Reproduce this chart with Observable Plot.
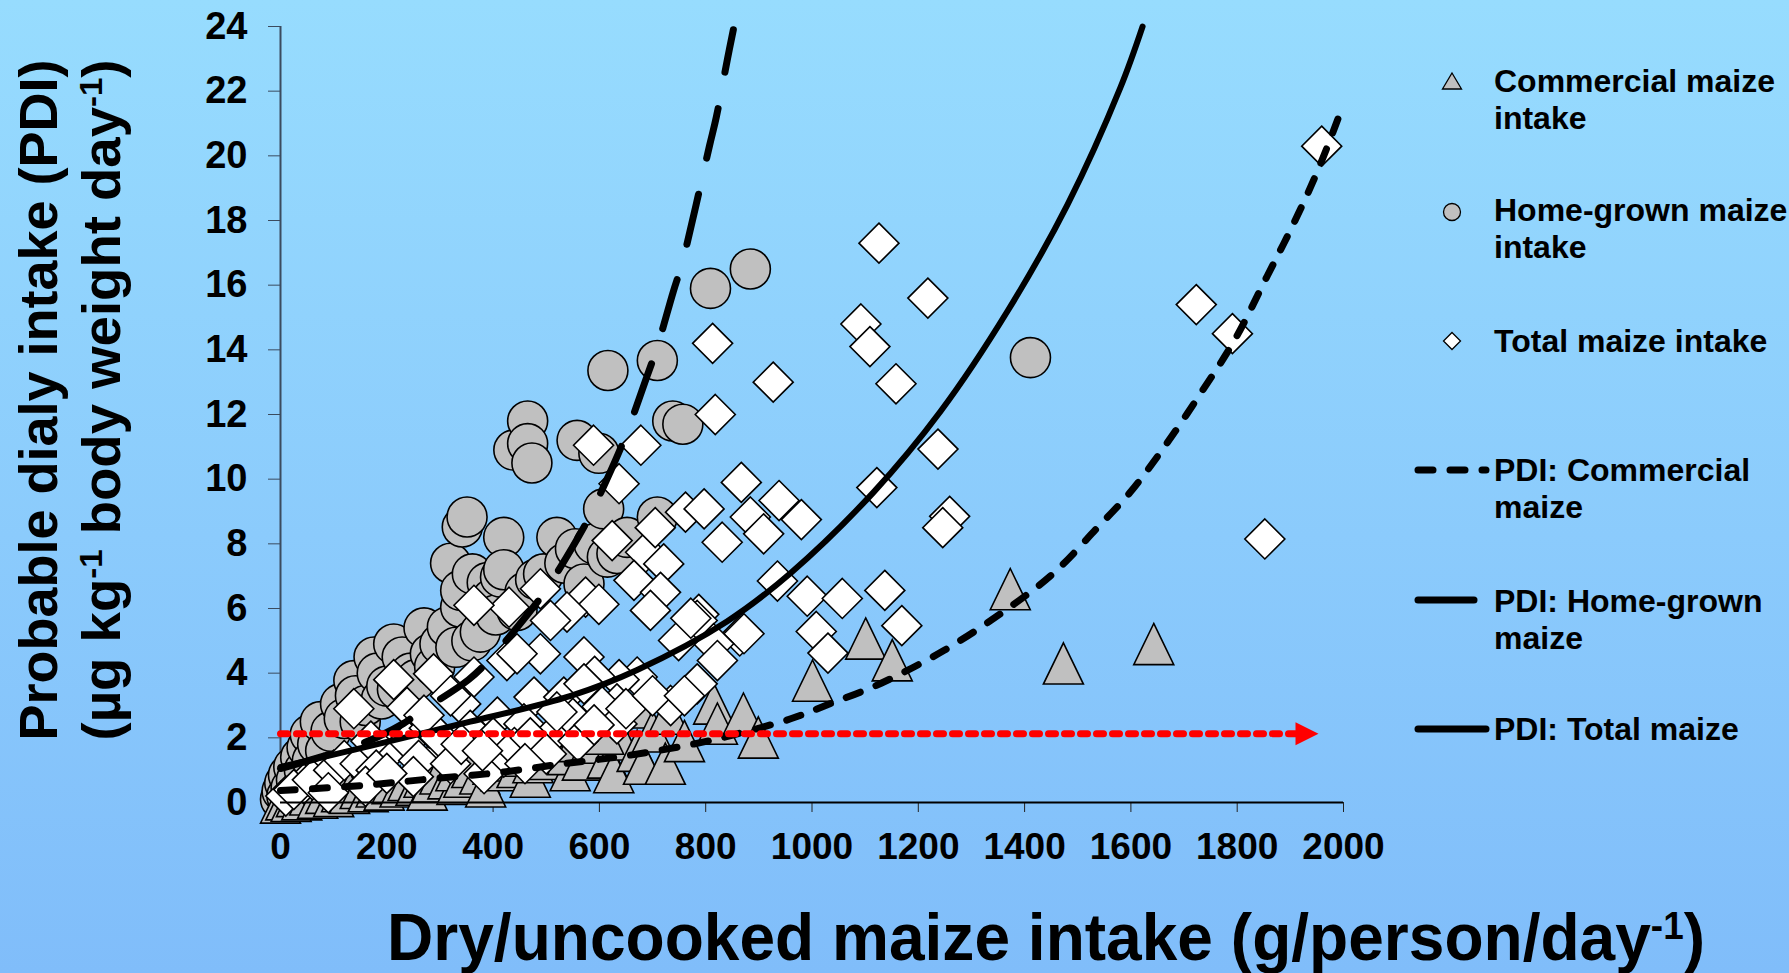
<!DOCTYPE html>
<html><head><meta charset="utf-8">
<script src="https://cdn.jsdelivr.net/npm/d3@7"></script>
<script src="https://cdn.jsdelivr.net/npm/@observablehq/plot@0.6"></script>
<style>
html,body{margin:0;padding:0;}
body{width:1789px;height:973px;overflow:hidden;background:linear-gradient(to bottom,#97DCFE 0%,#8BCBFC 55%,#80BDFA 100%);font-family:"Liberation Sans",Arial,sans-serif;}
#wrap{position:relative;width:1789px;height:973px;}
#wrap svg.overlay{position:absolute;left:0;top:0;pointer-events:none;}
</style></head><body><div id="wrap"></div>
<script>
// ---------------- DATA ----------------
const xTicks = [0,200,400,600,800,1000,1200,1400,1600,1800,2000];
const yTicks = [0,2,4,6,8,10,12,14,16,18,20,22,24];

// Commercial maize intake (triangles)
const commercialIntake = [
 [0,0.0],[10,0.1],[20,0.05],[30,0.2],[40,0.1],[55,0.25],[70,0.15],[85,0.3],[100,0.2],[115,0.35],
 [130,0.3],[150,0.45],[165,0.35],[180,0.5],[195,0.4],[210,0.6],[225,0.5],[240,0.7],[255,0.55],[276,0.4],
 [270,0.8],[285,0.65],[300,0.9],[315,0.75],[332,0.58],[330,1.0],[345,0.8],[360,1.1],[375,0.9],[386,0.5],
 [400,1.2],[415,1.0],[430,1.3],[445,1.1],[470,0.8],[460,1.45],[475,1.25],[490,1.6],[505,1.35],[520,1.7],
 [545,1.0],[540,1.5],[555,1.9],[568,1.33],[589,1.85],[615,1.39],[627,0.94],[632,2.2],[640,1.95],[671,1.6],
 [683,1.2],[608,2.13],[671,2.94],[700,2.2],[724,1.2],[730,2.75],[760,1.9],[815,3.06],[822,2.44],[871,2.75],
 [899,2.01],[1001,3.77],[1101,5.07],[1151,4.4],[1373,6.6],[1473,4.3],[1643,4.9]
];

// Home-grown maize intake (circles)
const homeGrownIntake = [
 [0,0.1],[3,0.35],[8,0.6],[12,0.2],[15,0.85],[20,0.45],[25,1.1],[30,0.7],[38,1.4],[45,1.0],
 [50,1.7],[56,2.1],[60,1.3],[70,1.8],[75,2.5],[85,1.6],[95,2.2],[113,3.05],[120,2.6],[138,3.77],
 [141,3.3],[150,2.5],[160,3.0],[176,4.5],[182,4.0],[190,3.2],[200,3.6],[213,4.9],[220,3.5],[229,4.5],
 [245,4.0],[255,3.8],[270,5.4],[282,4.6],[290,4.2],[300,4.9],[314,5.43],[320,7.4],[330,4.8],[339,6.04],
 [339,6.56],[342,8.52],[351,8.83],[360,5.0],[361,7.07],[376,5.27],[389,6.8],[398,6.3],[405,5.8],[414,6.97],
 [420,8.2],[420,7.2],[439,10.9],[445,5.94],[460,6.5],[465,11.8],[465,11.1],[473,10.5],[480,6.9],[495,7.07],
 [520,8.2],[535,7.4],[555,7.85],[558,11.2],[571,6.76],[590,8.0],[599,10.8],[608,9.08],[615,7.59],[616,13.36],
 [633,7.7],[652,8.2],[709,13.67],[709,8.83],[738,11.8],[757,11.7],[809,15.9],[884,16.5],[1411,13.76]
];

// Total maize intake (diamonds)
const totalIntake = [
 [1959,20.3],[1126,17.3],[1218,15.6],[1723,15.4],[1791,14.5],[813,14.2],[1092,14.8],[1109,14.1],[927,13.0],[1158,12.95],
 [818,12.0],[589,11.05],[678,11.05],[1237,10.93],[637,9.86],[867,9.9],[1122,9.74],[938,9.34],[762,8.98],[797,9.08],
 [884,8.83],[980,8.75],[1259,8.85],[1246,8.5],[909,8.31],[831,8.05],[624,8.1],[687,7.74],[705,8.5],[721,7.38],
 [1852,8.15],[665,6.87],[715,6.5],[696,5.94],[935,6.85],[489,6.61],[430,6.04],[364,6.1],[574,6.35],[599,6.13],
 [539,5.89],[508,5.63],[991,6.38],[1057,6.31],[1137,6.56],[787,5.82],[1008,5.29],[1169,5.47],[864,5.15],[784,5.63],
 [872,5.22],[815,4.91],[822,4.39],[749,5.01],[772,5.7],[1030,4.62],[489,4.6],[426,4.39],[571,4.5],[445,4.6],
 [671,3.88],[637,3.8],[591,3.9],[633,3.05],[605,2.96],[364,3.88],[288,3.98],[213,3.8],[138,2.9],[238,2.94],
 [339,3.05],[408,2.64],[477,3.26],[533,3.26],[571,3.67],[458,2.43],[357,2.23],[420,1.4],[307,1.61],[207,1.61],
 [81,0.89],[44,0.58],[734,3.0],[784,3.67],[633,2.43],[514,2.13],[383,0.89],[10,0.2],[25,0.4],[60,0.7],
 [100,1.0],[120,1.3],[150,1.2],[170,1.9],[180,1.0],[240,1.9],[260,1.3],[280,2.3],[300,2.0],[320,1.2],
 [340,1.8],[400,2.0],[440,1.7],[470,2.0],[500,1.5],[550,2.6],[560,1.9],[590,2.4],[650,2.9],[700,3.3],
 [760,3.3],[270,2.7],[320,3.3],[250,0.8],[160,0.5],[200,0.9],[90,0.3],[380,1.6],[460,1.2],[520,2.8]
];

// PDI curves
const pdiCommercial = [
 [0,0.37],[157,0.53],[282,0.73],[408,0.92],[533,1.2],[652,1.45],[778,1.81],[847,2.07],[960,2.59],[1035,3.06],
 [1129,3.68],[1248,4.7],[1360,5.9],[1455,7.1],[1537,8.5],[1599,9.6],[1663,11.0],[1731,12.65],[1795,14.3],[1857,16.3],
 [1906,17.9],[1953,19.6],[2000,21.6]
];
const pdiHomeGrown = [
 [0,1.05],[150,1.8],[231,2.44],[258,2.75],[354,3.8],[395,4.45],[464,5.8],[499,6.56],[577,8.7],[602,9.56],
 [646,11.2],[690,13.2],[709,14.1],[739,15.8],[756,16.7],[807,20.3],[820,21.2],[841,23.0],[852,23.9]
];
const pdiTotal = [
 [0,1.1],[169,1.75],[282,2.2],[357,2.5],[546,3.3],[671,4.1],[840,5.6],[960,7.1],[1116,9.6],[1242,12.1],
 [1368,15.2],[1481,18.5],[1580,22.1],[1622,24]
];

// red reference (dotted arrow)
const limitLevel = [2.13];
const limitSpan = [0, 1912];
const limitArrowTip = [1953];

// legend entries
const legendMarkers = [
  {label: ["Commercial maize", "intake"], kind: "triangle"},
  {label: ["Home-grown maize", "intake"], kind: "circle"},
  {label: ["Total maize intake"], kind: "diamond"}
];
const legendLines = [
  {label: ["PDI: Commercial", "maize"], dash: "15,17"},
  {label: ["PDI: Home-grown", "maize"], dash: "none", short: true},
  {label: ["PDI: Total maize"], dash: "none"}
];

// ---------------- SYMBOLS ----------------
const triSym = {draw(ctx, size){const s=Math.sqrt(size/Math.PI);ctx.moveTo(0,-s*1.03);ctx.lineTo(s,s*1.03);ctx.lineTo(-s,s*1.03);ctx.closePath();}};
const diaSym = {draw(ctx, size){const s=Math.sqrt(size/Math.PI);ctx.moveTo(0,-s);ctx.lineTo(s,0);ctx.lineTo(0,s);ctx.lineTo(-s,0);ctx.closePath();}};
const arrowSym = {draw(ctx, size){const s=Math.sqrt(size/Math.PI);ctx.moveTo(0,0);ctx.lineTo(-2*s,-s);ctx.lineTo(-2*s,s);ctx.closePath();}};

const X = d => d[0], Y = d => d[1];
const font = "Liberation Sans, Arial, sans-serif";

const limitLine = limitSpan.map(x => [x, limitLevel[0]]);
const arrowHead = limitArrowTip.map(x => [x, limitLevel[0]]);

const chart = Plot.plot({
  width: 1789, height: 973,
  marginLeft: 280, marginRight: 446, marginTop: 26, marginBottom: 171,
  x: {domain: [0, 2000]},
  y: {domain: [0, 24]},
  style: {background: "transparent", fontFamily: font, overflow: "visible"},
  marks: [
    Plot.ruleX([0], {stroke: "#3b4b5e", strokeWidth: 2}),
    Plot.axisY({ticks: yTicks, tickFormat: d => String(d), tickSize: 12, tickPadding: 21, fontSize: 38, fontWeight: "bold", fontFamily: font, label: null, stroke: "#3b4b5e", color: "black"}),
    Plot.axisX({ticks: xTicks, tickFormat: d => String(d), tickSize: 10, tickPadding: 20, fontSize: 37, fontWeight: "bold", fontFamily: font, label: null, stroke: "#222", color: "black"}),
    Plot.dot(homeGrownIntake, {x: X, y: Y, r: 20, fill: "#C0C0C0", stroke: "black", strokeWidth: 1.6}),
    Plot.dot(commercialIntake, {x: X, y: Y, r: 20, symbol: triSym, fill: "#C0C0C0", stroke: "black", strokeWidth: 1.6}),
    Plot.dot(totalIntake, {x: X, y: Y, r: 20, symbol: diaSym, fill: "white", stroke: "black", strokeWidth: 1.6}),
    Plot.ruleY([0], {stroke: "black", strokeWidth: 2}),
    Plot.line(pdiCommercial, {x: X, y: Y, curve: "catmull-rom", stroke: "black", strokeWidth: 7, strokeDasharray: "15,17", strokeLinecap: "round"}),
    Plot.line(pdiHomeGrown, {x: X, y: Y, curve: "catmull-rom", stroke: "black", strokeWidth: 7, strokeDasharray: "51,37", strokeLinecap: "round"}),
    Plot.line(pdiTotal, {x: X, y: Y, curve: "catmull-rom", stroke: "black", strokeWidth: 6}),
    Plot.line(limitLine, {x: X, y: Y, stroke: "#FF0000", strokeWidth: 7, strokeDasharray: "7,9"}),
    Plot.dot(arrowHead, {x: X, y: Y, r: 11.5, symbol: arrowSym, fill: "#FF0000", stroke: "none"})
  ]
});
const wrap = document.getElementById("wrap");
wrap.appendChild(chart);

// ---------------- OVERLAY: titles + legend ----------------
const ov = d3.select(wrap).append("svg").attr("class","overlay")
  .attr("width",1789).attr("height",973)
  .style("font-family", font).style("font-weight","bold");

// Y title (two lines, rotated)
ov.append("text").attr("transform","translate(57,400) rotate(-90)")
  .attr("text-anchor","middle").attr("font-size",53)
  .attr("textLength",681).attr("lengthAdjust","spacingAndGlyphs")
  .text("Probable dialy intake (PDI)");
const yt2 = ov.append("text").attr("transform","translate(120,400) rotate(-90)")
  .attr("text-anchor","middle").attr("font-size",53)
  .attr("textLength",681).attr("lengthAdjust","spacingAndGlyphs");
yt2.append("tspan").text("(µg  kg");
yt2.append("tspan").attr("baseline-shift","super").attr("font-size",32).text("-1");
yt2.append("tspan").text(" body weight day");
yt2.append("tspan").attr("baseline-shift","super").attr("font-size",32).text("-1");
yt2.append("tspan").text(")");

// X title
const xt = ov.append("text").attr("x",387).attr("y",960).attr("font-size",66)
  .attr("textLength",1318).attr("lengthAdjust","spacingAndGlyphs");
xt.append("tspan").text("Dry/uncooked maize intake (g/person/day");
xt.append("tspan").attr("baseline-shift","super").attr("font-size",38).text("-1");
xt.append("tspan").text(")");

// Legend
const legX = 1494, symX = 1452, fs = 32, lh = 36.5;
const markerRows = [81, 212, 341];
const markerBase = [92, 221, 352];
legendMarkers.forEach((m, i) => {
  const cy = markerRows[i];
  if (m.kind === "triangle") ov.append("path").attr("d", `M${symX},${cy-8} L${symX+9.5},${cy+8} L${symX-9.5},${cy+8} Z`).attr("fill","#C0C0C0").attr("stroke","black").attr("stroke-width",1.3);
  if (m.kind === "circle") ov.append("circle").attr("cx",symX).attr("cy",cy).attr("r",8.5).attr("fill","#C0C0C0").attr("stroke","black").attr("stroke-width",1.3);
  if (m.kind === "diamond") ov.append("path").attr("d", `M${symX},${cy-8.5} L${symX+8.5},${cy} L${symX},${cy+8.5} L${symX-8.5},${cy} Z`).attr("fill","white").attr("stroke","black").attr("stroke-width",1.3);
  m.label.forEach((t, j) => ov.append("text").attr("x",legX).attr("y",markerBase[i]+j*lh).attr("font-size",fs).text(t));
});
const lineRows = [470, 600, 729];
const lineBase = [481, 612, 740];
legendLines.forEach((l, i) => {
  const y = lineRows[i];
  ov.append("line").attr("x1",1418).attr("x2", l.short ? 1474 : 1486).attr("y1",y).attr("y2",y)
    .attr("stroke","black").attr("stroke-width",7).attr("stroke-linecap","round")
    .attr("stroke-dasharray", l.dash);
  l.label.forEach((t, j) => ov.append("text").attr("x",legX).attr("y",lineBase[i]+j*lh).attr("font-size",fs).text(t));
});
</script></body></html>
